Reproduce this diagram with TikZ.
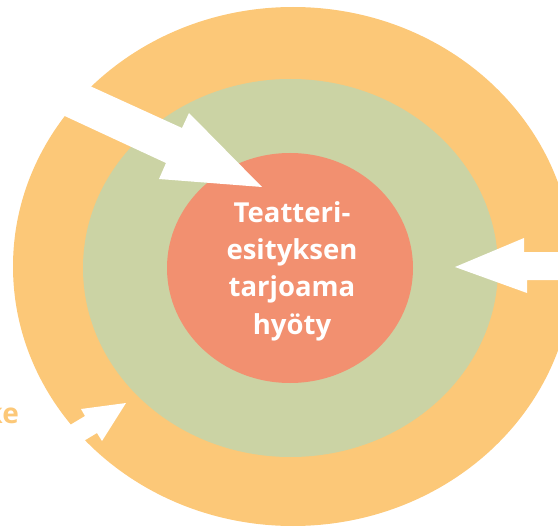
\documentclass[tikz,border=0pt]{standalone}
\usepackage{fontspec}
\setmainfont{Open Sans}
\definecolor{ringorange}{HTML}{FCC878}
\definecolor{ringgreen}{HTML}{CBD3A4}
\definecolor{coresalmon}{HTML}{F29070}
\tikzset{
  ring/.style={inner sep=0pt, outer sep=0pt},
  whitearrow/.style={fill=white, draw=none},
  coretext/.style={text=white, font=\fontsize{27.5}{37.3}\selectfont\bfseries, align=center, inner sep=0pt},
  sidetext/.style={text=ringorange, font=\fontsize{28}{32}\selectfont\bfseries, inner sep=0pt}
}
\begin{document}
\begin{tikzpicture}[x=1pt,y=-1pt]
\useasboundingbox (0,0) rectangle (558,527);
% rings
\fill[ringorange] (293,266.5) ellipse [x radius=280pt, y radius=259.5pt];
\fill[ringgreen] (290.5,268) ellipse [x radius=207.5pt, y radius=189pt];
\fill[coresalmon] (290,268) ellipse [x radius=123pt, y radius=115pt];
% arrows
\fill[whitearrow] (0,45) -- (182,128) -- (189,113) -- (262,187) -- (159,179) -- (166,163) -- (0,86) -- cycle;
\fill[whitearrow] (570,252) -- (524,252) -- (524,238) -- (455,267) -- (527,293) -- (527,280) -- (570,280) -- cycle;
\fill[whitearrow] (40,443) -- (85,416) -- (81,409) -- (126,403) -- (102,441) -- (97,433) -- (40,467) -- cycle;
% texts
\node[coretext] (core) at (292,271) {Teatteri-\\esityksen\\tarjoama\\hyöty};
\node[sidetext, anchor=base east] (side) at (19,423) {ke};
\end{tikzpicture}
\end{document}
